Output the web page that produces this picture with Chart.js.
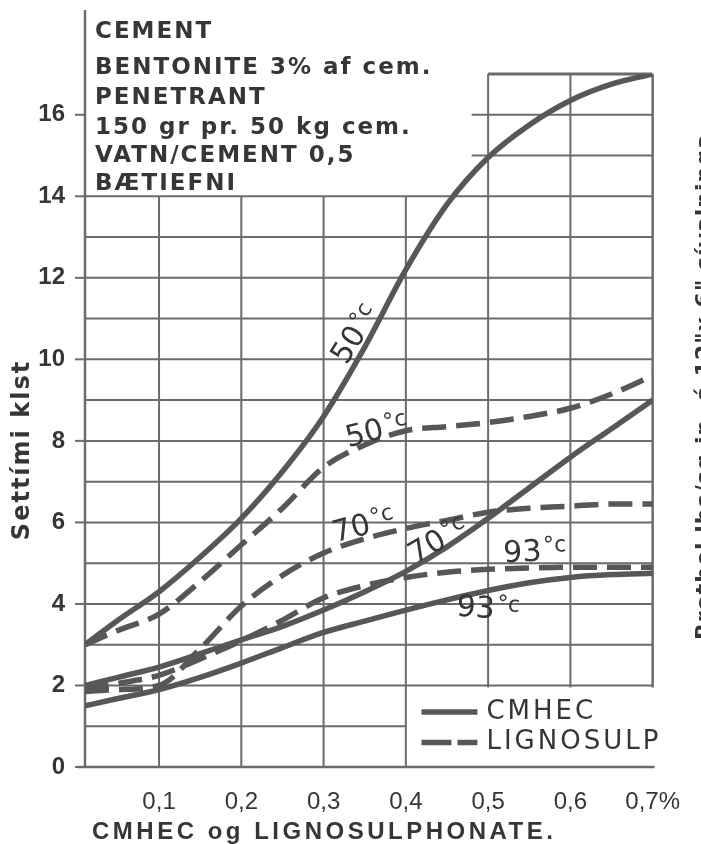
<!DOCTYPE html>
<html>
<head>
<meta charset="utf-8">
<script src="https://cdn.jsdelivr.net/npm/chart.js@4.4.1/dist/chart.umd.min.js"></script>
<style>
  html, body { margin: 0; padding: 0; background: #fff; }
  canvas { display: block; }
</style>
</head>
<body>
<canvas id="c" width="701" height="844"></canvas>
<script>
// Additive dosage (% of cement weight) where the curves are sampled
const dosage = [0.01, 0.05, 0.1, 0.15, 0.2, 0.25, 0.3, 0.35, 0.4, 0.45, 0.5, 0.55, 0.6, 0.65, 0.7];

// Setting time (hours) – CMHEC
const cmhec50 = [3.0, 3.6, 4.3, 5.15, 6.1, 7.25, 8.6, 10.3, 12.2, 13.8, 14.95, 15.75, 16.35, 16.75, 17.0];
const cmhec70 = [2.0, 2.2, 2.45, 2.78, 3.12, 3.45, 3.85, 4.3, 4.8, 5.4, 6.1, 6.85, 7.6, 8.3, 9.0];
const cmhec93 = [1.5, 1.68, 1.9, 2.2, 2.55, 2.93, 3.3, 3.58, 3.85, 4.1, 4.33, 4.52, 4.65, 4.72, 4.75];

// Setting time (hours) – lignosulphonate
const ligno50 = [3.0, 3.35, 3.75, 4.55, 5.45, 6.35, 7.35, 7.9, 8.25, 8.35, 8.45, 8.6, 8.8, 9.15, 9.6];
const ligno70 = [1.85, 1.9, 2.0, 2.9, 3.95, 4.7, 5.25, 5.6, 5.85, 6.05, 6.25, 6.35, 6.4, 6.45, 6.45];
const ligno93 = [1.9, 2.05, 2.25, 2.65, 3.1, 3.6, 4.15, 4.45, 4.65, 4.78, 4.85, 4.88, 4.9, 4.9, 4.9];

// Axis ticks
const xTicks = [0.1, 0.2, 0.3, 0.4, 0.5, 0.6, 0.7];
const xTickLabels = ['0,1', '0,2', '0,3', '0,4', '0,5', '0,6', '0,7%'];
const yTicks = [0, 2, 4, 6, 8, 10, 12, 14, 16];

// Temperature labels written along the curves
const curveLabels = [
  { text: '50', x: 0.340, y: 10.6, angle: -58 },
  { text: '50', x: 0.365, y: 8.22, angle: -14 },
  { text: '70', x: 0.349, y: 5.89, angle: -15 },
  { text: '70', x: 0.440, y: 5.52, angle: -30 },
  { text: '93', x: 0.557, y: 5.25, angle: -3 },
  { text: '93', x: 0.500, y: 3.85, angle: 4 }
];

const boxLines = [
  'CEMENT',
  'BENTONITE 3% af cem.',
  'PENETRANT',
  '150 gr pr. 50 kg cem.',
  'VATN/CEMENT 0,5',
  'BÆTIEFNI'
];

const INK = '#363636';
const CURVE = '#575757';
const GRID = '#6b6b6b';
const DASH = [24, 10];

const pts = ys => dosage.map((x, i) => ({ x, y: ys[i] }));
const curve = (label, ys, dashed) => ({
  label,
  data: pts(ys),
  borderColor: CURVE,
  borderWidth: 5.5,
  borderDash: dashed ? DASH : [],
  pointRadius: 0,
  fill: false,
  cubicInterpolationMode: 'monotone'
});

function setSpacing(ctx, px) {
  if ('letterSpacing' in ctx) ctx.letterSpacing = px + 'px';
}

const paper = {
  id: 'paper',
  beforeDraw(chart) {
    const ctx = chart.ctx;
    ctx.save();
    ctx.fillStyle = '#fff';
    ctx.fillRect(0, 0, chart.width, chart.height);
    ctx.restore();
  },
  beforeDatasetsDraw(chart) {
    const ctx = chart.ctx;
    const X = v => chart.scales.x.getPixelForValue(v);
    const Y = v => chart.scales.y.getPixelForValue(v);
    const seg = (x1, y1, x2, y2, w) => {
      ctx.lineWidth = w || 2;
      ctx.beginPath();
      ctx.moveTo(X(x1), Y(y1));
      ctx.lineTo(X(x2), Y(y2));
      ctx.stroke();
    };
    ctx.save();
    ctx.strokeStyle = GRID;
    ctx.lineCap = 'butt';
    // verticals of the main grid
    [0.1, 0.2, 0.3, 0.4].forEach(v => seg(v, 0, v, 14));
    [0.5, 0.6].forEach(v => seg(v, 1.95, v, 17));
    seg(0.7, 1.95, 0.7, 17, 2.5);
    // horizontals
    seg(0.01, 1, 0.4, 1);
    for (let h = 2; h <= 14; h++) seg(0.01, h, 0.7, h);
    seg(0.48, 15, 0.7, 15);
    seg(0.48, 16, 0.7, 16);
    seg(0.5, 17, 0.7, 17, 3);
    // axes
    ctx.lineWidth = 2.5;
    ctx.beginPath();
    ctx.moveTo(X(0.01), 10);
    ctx.lineTo(X(0.01), Y(0));
    ctx.stroke();
    ctx.beginPath();
    ctx.moveTo(X(0.01) - 7, Y(0));
    ctx.lineTo(X(0.7) + 2, Y(0));
    ctx.stroke();
    // tick marks at labelled values
    ctx.lineWidth = 2;
    yTicks.forEach(v => {
      ctx.beginPath();
      ctx.moveTo(X(0.01) - 10, Y(v));
      ctx.lineTo(X(0.01), Y(v));
      ctx.stroke();
    });
    ctx.restore();
  },
  afterDatasetsDraw(chart) {
    const ctx = chart.ctx;
    const X = v => chart.scales.x.getPixelForValue(v);
    const Y = v => chart.scales.y.getPixelForValue(v);
    ctx.save();
    ctx.fillStyle = INK;

    // temperature labels
    curveLabels.forEach(l => {
      ctx.save();
      ctx.translate(X(l.x), Y(l.y));
      ctx.rotate(l.angle * Math.PI / 180);
      setSpacing(ctx, 0);
      ctx.font = '30px "DejaVu Sans"';
      const wNum = ctx.measureText(l.text).width;
      ctx.font = '22px "DejaVu Sans"';
      const wDeg = ctx.measureText('°c').width;
      const total = wNum + 2 + wDeg;
      ctx.textBaseline = 'middle';
      ctx.textAlign = 'left';
      ctx.font = '30px "DejaVu Sans"';
      ctx.fillText(l.text, -total / 2, 0);
      ctx.font = '22px "DejaVu Sans"';
      ctx.fillText('°c', -total / 2 + wNum + 2, -6);
      ctx.restore();
    });

    // key
    ctx.strokeStyle = CURVE;
    ctx.lineWidth = 5.5;
    const kx1 = X(0.419), kx2 = X(0.487);
    ctx.beginPath();
    ctx.moveTo(kx1, Y(1.35));
    ctx.lineTo(kx2, Y(1.35));
    ctx.stroke();
    ctx.setLineDash([30, 6, 22, 6]);
    ctx.beginPath();
    ctx.moveTo(kx1, Y(0.6));
    ctx.lineTo(kx2, Y(0.6));
    ctx.stroke();
    ctx.setLineDash([]);
    ctx.font = '26px "DejaVu Sans"';
    setSpacing(ctx, 3);
    ctx.textAlign = 'left';
    ctx.textBaseline = 'middle';
    ctx.fillText('CMHEC', X(0.498), Y(1.35));
    ctx.fillText('LIGNOSULP', X(0.498), Y(0.6));

    // composition box, upper left
    ctx.font = 'bold 23px "DejaVu Sans"';
    setSpacing(ctx, 2);
    const rowsY = [32, 68, 98, 128, 156, 184];
    boxLines.forEach((t, i) => ctx.fillText(t, 95, rowsY[i]));

    // x axis title
    ctx.font = 'bold 24px "Liberation Sans"';
    setSpacing(ctx, 3.5);
    ctx.textAlign = 'left';
    ctx.fillText('CMHEC og LIGNOSULPHONATE.', 92, 832);

    // y axis title
    ctx.save();
    ctx.translate(23, 450);
    ctx.rotate(-Math.PI / 2);
    ctx.font = 'bold 24px "DejaVu Sans"';
    setSpacing(ctx, 2);
    ctx.textAlign = 'center';
    ctx.fillText('Settími klst', 0, 0);
    ctx.restore();

    // right-hand strength scale caption (runs off the page edge)
    ctx.save();
    ctx.translate(711, 640);
    ctx.rotate(-Math.PI / 2);
    ctx.font = 'bold 22px "DejaVu Sans"';
    setSpacing(ctx, 1);
    ctx.textAlign = 'left';
    ctx.textBaseline = 'alphabetic';
    ctx.fillText('Brotþol lbs/sq.in. á 12"x 6" sívalninga', 0, 0);
    ctx.restore();

    ctx.restore();
  }
};

new Chart(document.getElementById('c'), {
  type: 'line',
  data: {
    datasets: [
      curve('CMHEC 50°C', cmhec50, false),
      curve('CMHEC 70°C', cmhec70, false),
      curve('CMHEC 93°C', cmhec93, false),
      curve('LIGNOSULP 50°C', ligno50, true),
      curve('LIGNOSULP 70°C', ligno70, true),
      curve('LIGNOSULP 93°C', ligno93, true)
    ]
  },
  options: {
    responsive: false,
    animation: false,
    devicePixelRatio: 1,
    layout: { padding: { top: 74, right: 46, bottom: 0, left: 0 } },
    plugins: { legend: { display: false }, tooltip: { enabled: false } },
    scales: {
      x: {
        type: 'linear',
        min: 0.01,
        max: 0.7,
        border: { display: false },
        grid: { display: false, drawTicks: false },
        afterBuildTicks: s => { s.ticks = xTicks.map(v => ({ value: v })); },
        afterFit: s => { s.height = 77; },
        ticks: {
          padding: 21,
          autoSkip: false,
          maxRotation: 0,
          color: INK,
          font: { family: 'Liberation Sans', size: 24 },
          callback: (v) => xTickLabels[xTicks.findIndex(t => Math.abs(t - v) < 1e-6)]
        }
      },
      y: {
        type: 'linear',
        min: 0,
        max: 17,
        border: { display: false },
        grid: { display: false, drawTicks: false },
        afterBuildTicks: s => { s.ticks = yTicks.map(v => ({ value: v })); },
        afterFit: s => { s.width = 85; },
        ticks: {
          padding: 20,
          color: INK,
          font: { family: 'Liberation Sans', size: 24, weight: 'bold' },
          callback: v => String(v)
        }
      }
    }
  },
  plugins: [paper]
});
</script>
</body>
</html>
